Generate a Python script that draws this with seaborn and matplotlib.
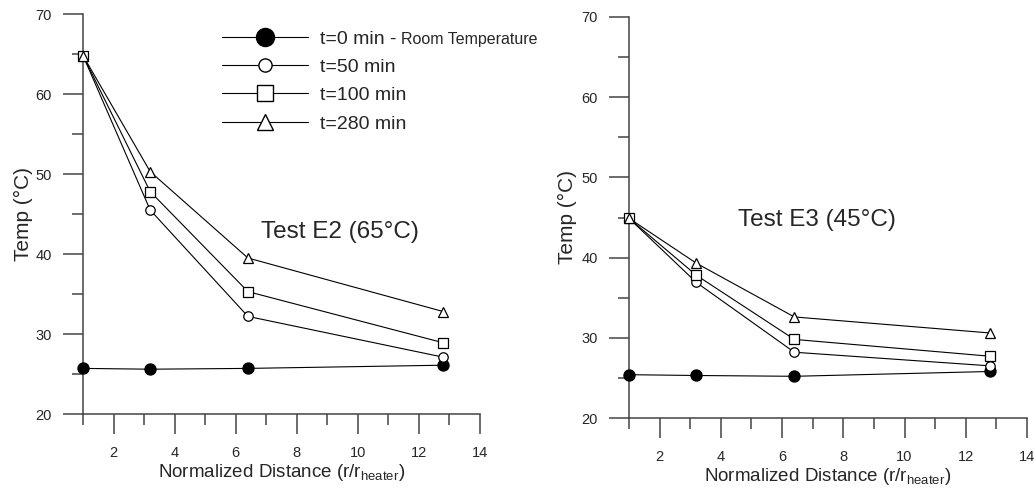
import numpy as np
import pandas as pd
import seaborn as sns
import matplotlib.pyplot as plt
from matplotlib.lines import Line2D
from matplotlib.ticker import MultipleLocator

sns.set_style('ticks')
plt.rcParams['font.family'] = ['Liberation Sans', 'DejaVu Sans']
plt.rcParams['mathtext.fontset'] = 'custom'
plt.rcParams['mathtext.rm'] = 'Liberation Sans'

# data
dist = [1.0, 3.2, 6.4, 12.8]
series_labels = ['t=0 min -', 't=50 min', 't=100 min', 't=280 min']

e2_t0 = [25.7, 25.6, 25.7, 26.1]
e2_t50 = [64.8, 45.5, 32.2, 27.1]
e2_t100 = [64.8, 47.8, 35.3, 28.9]
e2_t280 = [64.8, 50.3, 39.5, 32.8]

e3_t0 = [25.4, 25.3, 25.2, 25.8]
e3_t50 = [44.9, 36.9, 28.2, 26.5]
e3_t100 = [44.9, 37.8, 29.8, 27.7]
e3_t280 = [44.9, 39.3, 32.6, 30.6]

markers = ['o', 'o', 's', '^']
faces = ['black', 'white', 'white', 'white']
msize = [8, 6.8, 6.8, 7]
leg_msize = [13, 9.5, 11.5, 11]

fig = plt.figure(figsize=(10.34, 4.88), dpi=100)
ax1 = fig.add_axes([83 / 1034, 1 - 414 / 488, 397 / 1034, 400 / 488])
ax2 = fig.add_axes([629 / 1034, 1 - 418 / 488, 398 / 1034, 401 / 488])


def draw(ax, data, title, tx, ty, ypad):
    for i, vals in enumerate(data):
        df = pd.DataFrame({'x': dist, 'y': vals})
        sns.lineplot(data=df, x='x', y='y', ax=ax, color='black', lw=0.8,
                     marker=markers[i], markersize=msize[i],
                     markerfacecolor=faces[i], markeredgecolor='black',
                     markeredgewidth=0.9, zorder=3 + i)
    for ln in ax.lines:
        ln.set_clip_on(False)
    ax.set_xlim(1, 14)
    ax.set_ylim(20, 70)
    ax.xaxis.set_major_locator(MultipleLocator(2))
    ax.xaxis.set_minor_locator(MultipleLocator(2, offset=1))
    ax.yaxis.set_major_locator(MultipleLocator(10))
    ax.yaxis.set_minor_locator(MultipleLocator(10, offset=5))
    # lengths in points: 20px ~ 14.4pt, 11px ~ 8pt
    ax.tick_params(which='major', direction='out', length=14.4, width=1.1,
                   color='#444444', labelsize=10.5, pad=8)
    ax.tick_params(which='minor', direction='out', length=8, width=1.1,
                   color='#444444')
    ax.tick_params(axis='x', which='major', pad=8.5)
    for s in ['top', 'right']:
        ax.spines[s].set_visible(False)
    for s in ['left', 'bottom']:
        ax.spines[s].set_color('#444444')
        ax.spines[s].set_linewidth(1.1)
    ax.set_xlabel(r'Normalized Distance (r/r$_{\mathrm{heater}}$)', fontsize=13.5, labelpad=1.5)
    ax.set_ylabel('Temp (°C)', fontsize=15, labelpad=ypad)
    ax.text(tx, ty, title, fontsize=17.5, ha='center', va='center')


draw(ax1, [e2_t0, e2_t50, e2_t100, e2_t280], 'Test E2 (65°C)', 9.4, 42.8, 2)
draw(ax2, [e3_t0, e3_t50, e3_t100, e3_t280], 'Test E3 (45°C)', 7.15, 44.7, 3)

handles = [Line2D([], [], color='black', lw=0.8, marker=markers[i],
                  markersize=leg_msize[i], markerfacecolor=faces[i],
                  markeredgecolor='black', markeredgewidth=1.0)
           for i in range(4)]
leg = ax1.legend(handles, series_labels, loc='upper left',
                 bbox_to_anchor=(222 / 1034, 1 - 30 / 488),
                 bbox_transform=fig.transFigure, frameon=False, fontsize=14,
                 handlelength=4.4, handletextpad=0.65, labelspacing=0.55,
                 borderpad=0, borderaxespad=0)

# smaller "Room Temperature" on the same baseline as the first legend entry
fig.canvas.draw()
bb = leg.get_texts()[0].get_window_extent()
base = bb.y0 + 0.21 * 14 * 100 / 72
fig.text(401 / 1034, base / 488, 'Room Temperature', fontsize=11.5,
         ha='left', va='baseline')

fig.savefig('out.png', dpi=100)
